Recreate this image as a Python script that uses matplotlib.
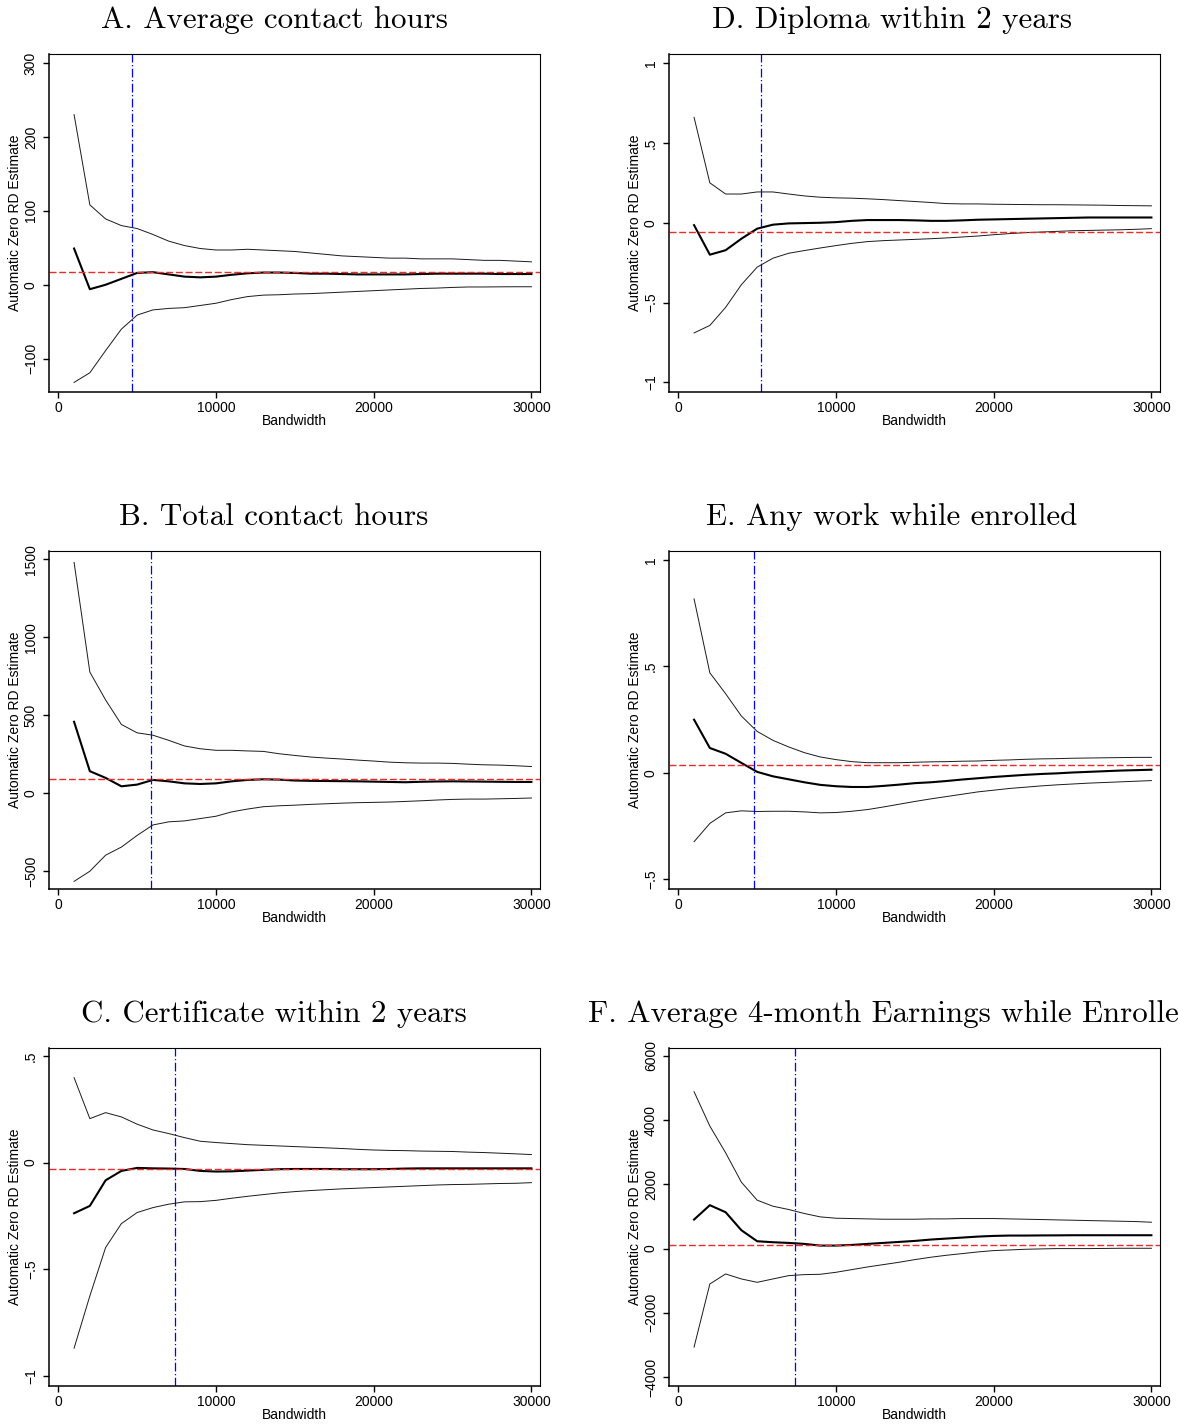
import matplotlib
matplotlib.use("Agg")
import matplotlib.pyplot as plt

plt.rcParams.update({
    'font.family': ['Liberation Sans', 'DejaVu Sans'],
    'font.size': 10,
    'axes.linewidth': 1.1,
    'xtick.major.size': 4,
    'ytick.major.size': 4,
    'xtick.major.width': 1.0,
    'ytick.major.width': 1.0,
    'xtick.major.pad': 2.5,
    'ytick.major.pad': 4,
    'xtick.labelsize': 10,
    'ytick.labelsize': 10,
    'axes.labelsize': 10,
})

# bandwidth grid
bandwidth = [1000, 2000, 3000, 4000, 5000, 6000, 7000, 8000, 9000, 10000,
             11000, 12000, 13000, 14000, 15000, 16000, 17000, 18000, 19000, 20000,
             21000, 22000, 23000, 24000, 25000, 26000, 27000, 28000, 29000, 30000]

# A. Average contact hours
a_hi = [230, 108, 89, 80, 76, 68, 59, 53, 49, 47, 47, 48, 47, 46, 45, 43, 41, 39, 38, 37,
        36, 36, 35, 35, 35, 34, 33, 33, 32, 31]
a_est = [49, -6, 0, 8, 16, 17, 14, 11, 10, 11, 13.5, 15.5, 16.5, 16.5, 16, 15, 15, 14.5, 14, 14,
         14, 14, 14.5, 15, 15, 15, 15, 14.5, 14.5, 14.5]
a_lo = [-132, -119, -89, -60, -41, -34, -32, -31, -28, -25, -20, -16, -14, -13.5, -12.5, -12, -11, -10, -9, -8,
        -7, -6, -5, -4.5, -3.6, -3, -3, -2.8, -2.7, -2.7]

# B. Total contact hours
b_hi = [1480, 776, 597, 440, 386, 371, 338, 302, 284, 274, 274, 270, 267, 252, 241, 231, 224, 218, 211, 205,
        198, 194, 192, 192, 190, 185, 181, 179, 175, 170]
b_est = [457, 140, 97, 43, 54, 84, 75, 62, 58, 62, 75, 84, 88, 86, 80, 78, 77, 76, 75, 73,
         71, 69, 72, 74, 75, 74, 73, 72, 71, 71]
b_lo = [-567, -502, -399, -347, -272, -205, -185, -179, -164, -149, -121, -103, -88, -82, -78, -73, -69, -65, -62, -60,
        -58, -54, -50, -45, -41, -39, -39, -37, -35, -32]

# C. Certificate within 2 years
c_hi = [0.398, 0.206, 0.234, 0.214, 0.18, 0.153, 0.136, 0.117, 0.10, 0.094, 0.089, 0.084, 0.081, 0.078, 0.075,
        0.072, 0.069, 0.066, 0.062, 0.059, 0.057, 0.056, 0.054, 0.053, 0.052, 0.049, 0.047, 0.044, 0.041, 0.0375]
c_est = [-0.2375, -0.203, -0.083, -0.039, -0.025, -0.027, -0.028, -0.03, -0.039, -0.042, -0.041, -0.0375, -0.034,
         -0.031, -0.03, -0.03, -0.03, -0.031, -0.031, -0.031, -0.03, -0.028, -0.027, -0.027, -0.027, -0.027,
         -0.027, -0.027, -0.027, -0.027]
c_lo = [-0.87, -0.625, -0.398, -0.286, -0.234, -0.211, -0.195, -0.184, -0.183, -0.177, -0.167, -0.158, -0.15,
        -0.142, -0.136, -0.131, -0.127, -0.123, -0.12, -0.117, -0.114, -0.111, -0.108, -0.105, -0.103, -0.102,
        -0.1, -0.098, -0.097, -0.094]

# D. Diploma within 2 years
d_hi = [0.66, 0.25, 0.18, 0.18, 0.193, 0.193, 0.18, 0.168, 0.16, 0.156, 0.154, 0.15, 0.145, 0.139, 0.133,
        0.127, 0.12, 0.118, 0.118, 0.116, 0.115, 0.114, 0.113, 0.113, 0.112, 0.111, 0.110, 0.108, 0.107, 0.106]
d_est = [-0.015, -0.2, -0.172, -0.1, -0.037, -0.012, -0.004, -0.002, 0.0, 0.004, 0.012, 0.017, 0.017, 0.017,
         0.015, 0.012, 0.012, 0.015, 0.019, 0.021, 0.023, 0.025, 0.027, 0.029, 0.031, 0.033, 0.033, 0.033,
         0.033, 0.033]
d_lo = [-0.69, -0.643, -0.53, -0.388, -0.278, -0.222, -0.191, -0.174, -0.158, -0.143, -0.129, -0.118, -0.112,
        -0.108, -0.104, -0.1, -0.095, -0.089, -0.083, -0.075, -0.068, -0.062, -0.058, -0.054, -0.05, -0.048,
        -0.046, -0.044, -0.041, -0.037]

# E. Any work while enrolled
e_hi = [0.817, 0.47, 0.372, 0.267, 0.195, 0.153, 0.122, 0.095, 0.075, 0.0625, 0.053, 0.048, 0.048, 0.048, 0.05,
        0.052, 0.053, 0.055, 0.056, 0.059, 0.061, 0.064, 0.066, 0.067, 0.069, 0.07, 0.071, 0.072, 0.073, 0.073]
e_est = [0.25, 0.117, 0.09, 0.047, 0.005, -0.016, -0.03, -0.044, -0.056, -0.0625, -0.066, -0.066, -0.061,
         -0.055, -0.048, -0.044, -0.038, -0.031, -0.025, -0.019, -0.014, -0.009, -0.005, -0.002, 0.002, 0.005,
         0.008, 0.011, 0.013, 0.015]
e_lo = [-0.323, -0.237, -0.1875, -0.178, -0.181, -0.18, -0.18, -0.183, -0.1875, -0.186, -0.18, -0.172, -0.16,
        -0.147, -0.134, -0.122, -0.111, -0.1, -0.089, -0.081, -0.073, -0.067, -0.061, -0.056, -0.052, -0.048,
        -0.045, -0.042, -0.039, -0.036]

# F. Average 4-month earnings while enrolled
f_hi = [4887, 3816, 2984, 2069, 1508, 1320, 1217, 1092, 988, 946, 936, 925, 915, 915, 915, 925, 925, 936, 936, 936,
        925, 915, 905, 894, 884, 873, 863, 853, 842, 821]
f_est = [905, 1352, 1133, 572, 229, 198, 177, 146, 94, 94, 114, 146, 177, 208, 239, 281, 312, 343, 374, 395,
         406, 406, 410, 412, 416, 416, 416, 416, 416, 416]
f_lo = [-3067, -1102, -790, -946, -1050, -946, -842, -811, -800, -738, -655, -572, -499, -426, -343, -270, -208,
        -156, -104, -62, -42, -21, -10, 0, 0, 0, 5, 10, 10, 10]

titles = ['A. Average contact hours', 'B. Total contact hours', 'C. Certificate within 2 years',
          'D. Diploma within 2 years', 'E. Any work while enrolled',
          'F. Average 4-month Earnings while Enrolled']
red_level = [16.7, 89, -0.028, -0.058, 0.038, 124]
blue_bw = [4680, 5900, 7420, 5220, 4820, 7400]
ylims = [(-145, 312), (-616, 1553), (-1.047, 0.537), (-1.06, 1.057), (-0.545, 1.042), (-4280, 6248)]
yticks = [[-100, 0, 100, 200, 300], [-500, 0, 500, 1000, 1500], [-1, -0.5, 0, 0.5],
          [-1, -0.5, 0, 0.5, 1], [-0.5, 0, 0.5, 1], [-4000, -2000, 0, 2000, 4000, 6000]]
ytick_labels = [['\u2212100', '0', '100', '200', '300'],
                ['\u2212500', '0', '500', '1000', '1500'],
                ['\u22121', '\u2212.5', '0', '.5'],
                ['\u22121', '\u2212.5', '0', '.5', '1'],
                ['\u2212.5', '0', '.5', '1'],
                ['\u22124000', '\u22122000', '0', '2000', '4000', '6000']]
series = [(a_hi, a_est, a_lo), (b_hi, b_est, b_lo), (c_hi, c_est, c_lo),
          (d_hi, d_est, d_lo), (e_hi, e_est, e_lo), (f_hi, f_est, f_lo)]

W, H = 1178, 1425
fig = plt.figure(figsize=(W / 100, H / 100), dpi=100)

col_left = [49, 669]
col_width = 491
row_bottom = [392, 889, 1386]
row_height = 338
title_x = [274, 892]
title_base = [28, 525, 1022]

for i in range(6):
    col, row = i // 3, i % 3
    ax = fig.add_axes([col_left[col] / W, 1 - row_bottom[row] / H, col_width / W, row_height / H])
    hi, est, lo = series[i]

    ax.plot(bandwidth, hi, color='#1a1a1a', lw=0.7)
    ax.plot(bandwidth, lo, color='#1a1a1a', lw=0.7)
    ax.plot(bandwidth, est, color='black', lw=1.5)
    ax.axhline(red_level[i], color='#ee2a2a', lw=1.0, dashes=(5, 2))
    ax.axvline(blue_bw[i], color='#0000ff', lw=0.9, dashes=(7, 2, 1, 2))

    ax.set_xlim(-590, 30545)
    ax.set_ylim(*ylims[i])
    ax.set_xticks([0, 10000, 20000, 30000], labels=['0', '10000', '20000', '30000'])
    ax.set_yticks(yticks[i], labels=ytick_labels[i])
    ax.tick_params(axis='y', labelrotation=90)
    plt.setp(ax.get_yticklabels(), va='center')
    ax.spines['top'].set_linewidth(0.8)
    ax.spines['right'].set_linewidth(0.8)

    ax.set_xlabel('Bandwidth', va='center')
    ax.xaxis.set_label_coords(0.5, -0.087)
    ax.set_ylabel('Automatic Zero RD Estimate', va='center')
    ax.yaxis.set_label_coords(-0.07, 0.5)

    # the F title runs past the right edge, as in the original figure
    fig.text(title_x[col] / W, 1 - title_base[row] / H, titles[i], ha='center', va='baseline',
             fontfamily='cmr10', fontsize=22.3)

fig.savefig('out.png', dpi=100)
